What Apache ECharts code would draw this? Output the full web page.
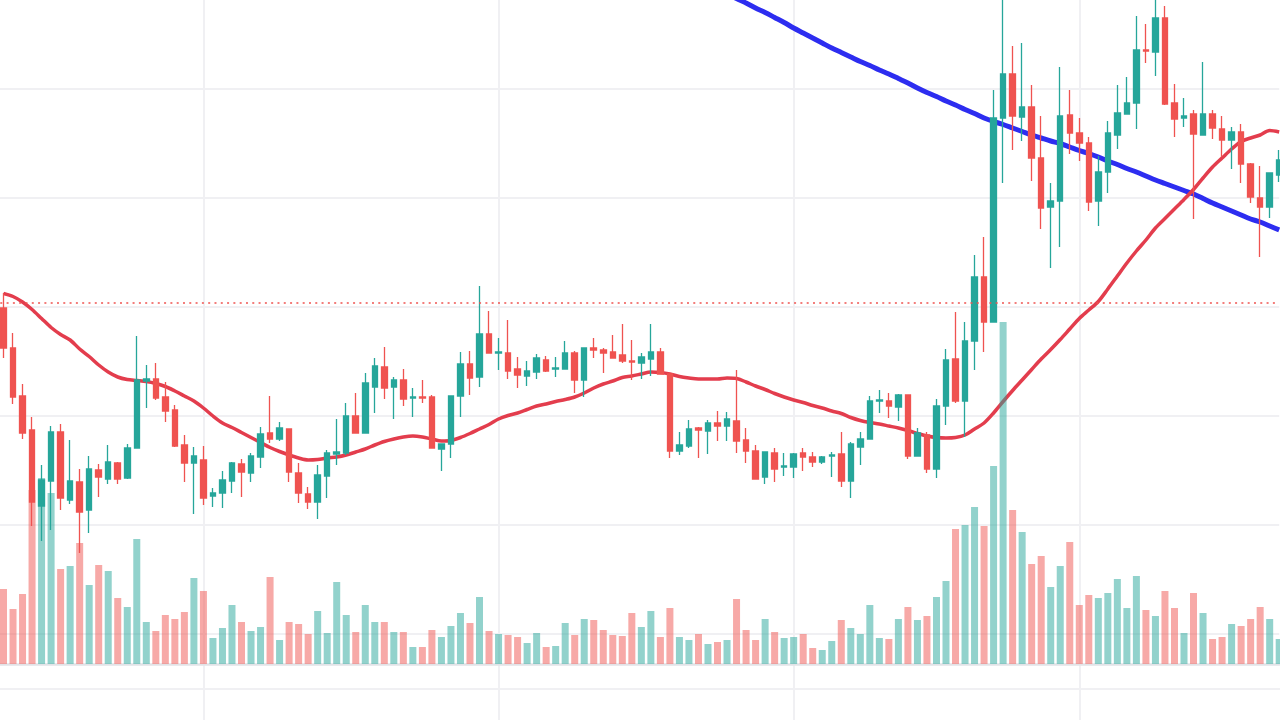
<!DOCTYPE html>
<html>
<head>
<meta charset="utf-8">
<script src="https://cdn.jsdelivr.net/npm/echarts@6/dist/echarts.min.js"></script>
<style>html,body{margin:0;padding:0;background:#fff;}#c{width:1280px;height:720px;}</style>
</head>
<body>
<div id="c"></div>
<script>
// Calendar spans of the daily categories (month, first day, last day)
const monthSpans = [['2023-06', 10, 30], ['2023-07', 1, 31], ['2023-08', 1, 31], ['2023-09', 1, 30], ['2023-10', 1, 22]];
const dates = [];
monthSpans.forEach(([m, a, b]) => { for (let d = a; d <= b; d++) dates.push(m + '-' + String(d).padStart(2, '0')); });

// OHLC: [open, close, low, high]
const ohlc = [
[435,395,385,450],[395,346,339,410],[347,310,304,359],[313,241,217,326],[237,263,202,278],
[262,311,213,317],[311,245,233,319],[243,262,239,303],[261,231,190,274],[233,274,210,287],
[273,266,246,279],[264,281,259,298],[280,264,259,281],[265,295,264,299],[295,363,295,407],
[362,364,335,378],[364,345,343,380],[346,332,321,361],[333,297,296,338],[298,280,261,308],
[280,287,229,296],[283,245,238,297],[247,250,236,255],[250,263,235,272],[262,280,250,281],
[279,271,246,284],[270,287,261,290],[286,309,275,316],[310,304,300,347],[304,315,302,321],
[314,271,261,314],[270,250,240,280],[249,241,234,256],[241,268,224,278],[267,290,245,293],
[289,291,278,324],[290,327,288,340],[327,310,310,350],[310,360,310,370],[356,377,330,385],
[376,355,344,396],[356,363,324,366],[363,344,337,374],[345,346,326,355],[346,345,340,363],
[346,295,295,348],[294,299,272,299],[299,347,285,347],[347,379,326,391],[379,365,348,392],
[366,409,356,457],[409,390,390,432],[390,391,373,405],[390,372,364,423],[374,368,355,386],
[367,372,357,382],[371,385,364,389],[383,372,371,387],[374,375,366,386],[374,390,374,402],
[390,363,350,392],[363,395,346,395],[395,393,385,405],[393,390,370,395],[391,385,385,408],
[388,382,380,419],[382,381,363,403],[380,386,364,390],[384,391,367,419],[391,369,369,395],
[369,292,285,369],[292,298,288,311],[297,314,295,323],[315,313,285,316],[312,320,289,323],
[320,317,302,332],[317,324,302,331],[322,302,290,373],[303,292,280,315],[292,264,264,298],
[266,291,259,291],[290,274,261,295],[276,277,267,290],[276,289,265,290],[290,286,272,295],
[286,281,276,291],[281,286,279,287],[287,288,266,291],[289,262,256,311],[262,299,245,301],
[296,304,278,311],[304,342,304,347],[342,343,330,353],[342,337,325,350],[336,348,322,349],
[348,287,284,348],[287,310,287,315],[308,274,270,311],[274,337,265,344],[337,383,318,394],
[384,342,340,431],[342,402,306,421],[402,466,373,488],[466,421,391,506],[421,625,421,653],
[625,669,560,746],[669,627,593,697],[626,636,602,700],[636,585,562,658],[585,535,514,627],
[536,542,475,560],[542,627,496,676],[628,610,589,653],[610,600,582,625],[600,541,532,606],
[542,571,517,587],[571,610,550,622],[608,630,594,658],[629,640,629,666],[640,693,614,727],
[693,692,680,719],[691,725,667,746],[725,639,638,737],[640,624,606,659],[625,627,616,645],
[629,609,524,633],[608,629,608,681],[629,615,604,633],[614,603,586,627],[603,611,574,616],
[611,579,560,619],[579,546,540,580],[545,536,486,577],[536,570,525,570],[568,583,561,593]
];

const volume = [
750,550,700,1740,1860,1710,950,980,1210,790,
990,930,660,570,1250,420,330,490,450,520,
860,730,260,360,590,420,330,370,870,240,
420,400,300,530,310,820,490,320,590,420,
420,320,320,170,170,340,270,380,510,410,
670,330,300,290,270,210,310,170,180,410,
290,450,440,340,290,280,510,370,530,270,
560,270,240,300,200,220,240,650,340,240,
450,320,260,270,300,160,140,230,440,360,
300,590,260,250,450,570,440,480,670,830,
1350,1390,1570,1380,1980,3420,1540,1320,1000,1080,
770,980,1220,590,690,660,710,850,560,880,
540,480,730,560,310,710,510,250,270,400,
380,450,570,450,250
];

const maShort = [
449.5,446.5,441,433.5,424.5,415.5,408.5,403,394,386.5,
378,371,366,363.5,362.5,361.5,359.5,356.5,352,347,
342,335,327,320,315.5,310.5,305.5,300.5,295.5,291.5,
288,285,283,283.5,285,286,288,291,294,298,
301.5,304,306,307,306,304,302,302.5,305.5,309.5,
314,318.5,324,327.5,330,333.5,337,339,341.5,343.5,
346,350,355,359,362,365.5,367,369,371,370.5,
369,366.5,365,364,364,364,365,364.5,361,357,
353.5,349.5,346,343,340.5,337.5,335,332,329.5,325.5,
322.5,320.5,319,317,315,312.5,309.5,307,305.5,305,
305.5,308,314,320,330,341.5,352.5,363,373.5,384,
393.5,403.5,414,424.5,433,441.5,454,467,480,492,
503,515,524.5,534,543.5,553.5,565,576,585,594,
601.5,605,608,612.5,611
];

const maLong = [
null,null,null,null,null,null,null,null,null,null,
null,null,null,null,null,null,null,null,null,null,
null,null,null,null,null,null,null,null,null,null,
null,null,null,null,null,null,null,null,null,null,
null,null,null,null,null,null,null,null,null,null,
null,null,null,null,null,null,null,null,null,null,
null,null,null,null,null,null,null,null,null,null,
null,null,null,null,null,754,749.5,744.5,740,735,
730.5,725.5,720.5,715,710,705,700,695,690.5,686,
681.5,677.5,673,669,664.5,660,655,650.5,646.5,642,
638,633.5,629.5,625,621.5,618.5,615,611.5,608,605,
602,599.5,596,592.5,589.5,586,582,578.5,574.5,571,
567,563,559.5,556,552.5,549,544.5,540,536,532,
528,524,521,517,513
];

const lastPrice = 440;

const UP = '#26a69a', DOWN = '#ef5350';
const chart = echarts.init(document.getElementById('c'), null, {renderer: 'canvas'});
const gridLine = {color: '#f0f0f3', width: 2};

chart.setOption({
  animation: false,
  backgroundColor: '#ffffff',
  grid: [
    {left: -6.02, right: 0.8, top: -20, bottom: -23, containLabel: false, outerBoundsMode: 'none'},
    {left: -6.02, right: 0.8, bottom: 56, height: 400, containLabel: false, outerBoundsMode: 'none'}
  ],
  graphic: [{
    type: 'line', z: -10,
    shape: {x1: 0, y1: 689, x2: 1280, y2: 689},
    style: {stroke: '#f0f0f3', lineWidth: 2}
  }],
  xAxis: [
    {
      type: 'category', gridIndex: 0, data: dates, boundaryGap: false, min: -1,
      axisLine: {show: false}, axisTick: {show: false}, axisLabel: {show: false},
      splitLine: {show: true, interval: (i, v) => /-01$/.test(String(v)), lineStyle: gridLine}
    },
    {
      type: 'category', gridIndex: 1, data: dates, boundaryGap: false, min: -1,
      axisLine: {show: true, lineStyle: {color: '#e2e3e7', width: 2.5}},
      axisTick: {show: false}, axisLabel: {show: false}, splitLine: {show: false}
    }
  ],
  yAxis: [
    {
      type: 'value', gridIndex: 0, min: 0, max: 763, interval: 109, scale: false,
      axisLine: {show: false}, axisTick: {show: false}, axisLabel: {show: false},
      splitLine: {show: true, lineStyle: gridLine}
    },
    {
      type: 'value', gridIndex: 1, min: 0, max: 4000,
      axisLine: {show: false}, axisTick: {show: false}, axisLabel: {show: false},
      splitLine: {show: false}
    }
  ],
  series: [
    {
      name: 'MA long', type: 'line', xAxisIndex: 0, yAxisIndex: 0, data: maLong,
      showSymbol: false, symbol: 'none', smooth: 0.3, z: 1,
      lineStyle: {color: '#2d2df0', width: 5}
    },
    {
      name: 'MA short', type: 'line', xAxisIndex: 0, yAxisIndex: 0, data: maShort,
      showSymbol: false, symbol: 'none', smooth: 0.3, z: 1,
      lineStyle: {color: '#e33d4d', width: 3.5}
    },
    {
      name: 'Volume', type: 'bar', xAxisIndex: 1, yAxisIndex: 1, data: volume,
      barWidth: 7, z: 2,
      itemStyle: {
        color: p => ohlc[p.dataIndex][1] >= ohlc[p.dataIndex][0] ? 'rgba(38,166,154,0.5)' : 'rgba(239,83,80,0.5)'
      }
    },
    {
      name: 'Price', type: 'candlestick', xAxisIndex: 0, yAxisIndex: 0, data: ohlc,
      barWidth: 6, z: 3,
      itemStyle: {color: UP, color0: DOWN, borderColor: UP, borderColor0: DOWN, borderWidth: 1.3},
      markLine: {
        silent: true, symbol: ['none', 'none'], label: {show: false},
        lineStyle: {color: DOWN, width: 1.6, type: [2, 4.3], opacity: 1},
        data: [{yAxis: lastPrice}]
      }
    }
  ]
});
</script>
</body>
</html>
